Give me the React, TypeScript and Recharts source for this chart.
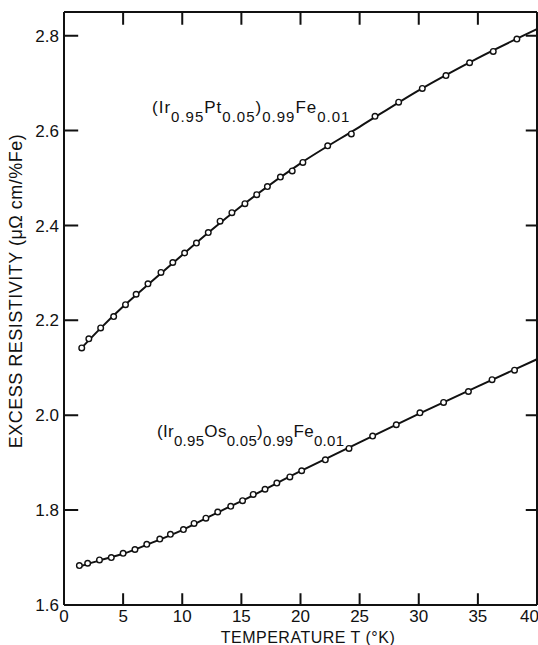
import { ComposedChart, Line, XAxis, YAxis, ReferenceLine, Customized } from "recharts"

// temperatures (K) and excess resistivity (μΩ cm / %Fe), measured points
const ptTemps = [1.5, 2.1, 3.1, 4.2, 5.2, 6.1, 7.1, 8.2, 9.2, 10.2, 11.2, 12.2, 13.2, 14.2, 15.3, 16.3, 17.2, 18.3, 19.3, 20.2, 22.3, 24.3, 26.3, 28.3, 30.3, 32.3, 34.3, 36.3, 38.3]
const ptValues = [2.142, 2.161, 2.184, 2.208, 2.233, 2.255, 2.277, 2.301, 2.322, 2.342, 2.363, 2.385, 2.409, 2.427, 2.446, 2.465, 2.482, 2.502, 2.515, 2.533, 2.568, 2.593, 2.63, 2.66, 2.689, 2.716, 2.743, 2.767, 2.793]

const osTemps = [1.3, 2.0, 3.0, 4.0, 5.0, 6.0, 7.0, 8.1, 9.0, 10.1, 11.0, 12.0, 13.0, 14.1, 15.1, 16.0, 17.0, 18.0, 19.1, 20.1, 22.1, 24.1, 26.1, 28.1, 30.1, 32.1, 34.2, 36.2, 38.1]
const osValues = [1.683, 1.688, 1.695, 1.7, 1.709, 1.717, 1.728, 1.739, 1.749, 1.759, 1.772, 1.783, 1.796, 1.808, 1.82, 1.833, 1.844, 1.857, 1.87, 1.883, 1.906, 1.93, 1.956, 1.98, 2.005, 2.027, 2.05, 2.075, 2.095]

// smooth drawn curves through each set
const fitTemps = [1.3, 3, 5, 7.5, 10, 12.5, 15, 20, 25, 30, 35, 40]
const ptFit = [2.137, 2.181, 2.229, 2.284, 2.338, 2.391, 2.441, 2.531, 2.608, 2.685, 2.753, 2.814]
const osFit = [1.681, 1.694, 1.708, 1.732, 1.758, 1.789, 1.819, 1.882, 1.943, 2.003, 2.061, 2.118]

const xTicks = [0, 5, 10, 15, 20, 25, 30, 35, 40]
const yTicks = [1.6, 1.8, 2.0, 2.2, 2.4, 2.6, 2.8]

const X_MIN = 0, X_MAX = 40, Y_MIN = 1.6, Y_MAX = 2.85

type Pt = { t: number; v: number | null }
const rows = (ts: number[], vs: number[]): Pt[] => ts.map((t, i) => ({ t, v: vs[i] }))

// inward tick marks as broken polylines: each tick is two points, then a gap
const vTicks = (ts: number[], v0: number, dv: number): Pt[] =>
  ts.flatMap((t) => [{ t, v: v0 }, { t, v: v0 + dv }, { t, v: null }])
const hTicks = (vs: number[], t0: number, dt: number): Pt[] =>
  vs.flatMap((v) => [{ t: t0, v }, { t: t0 + dt, v }, { t: t0 + dt / 2, v: null }])

const innerX = xTicks.slice(1, -1)
const innerY = yTicks.slice(1)

const FONT = "'Liberation Sans', Arial, sans-serif"
const INK = "#111"
const axisLine = { stroke: INK, strokeWidth: 2 }
const tickFont = { fontSize: 17, fontFamily: FONT, fill: INK }

// chemical formula with subscripts
const Formula = ({ x, y, mid, ls }: { x: number; y: number; mid: string; ls: number }) => {
  const parts: [string, boolean][] = [["(Ir", false], ["0.95", true], [mid, false], ["0.05", true], [")", false], ["0.99", true], ["Fe", false], ["0.01", true]]
  let prevSub = false
  return (
    <text x={x} y={y} fontSize={17} letterSpacing={ls} fontFamily={FONT} fill={INK}>
      {parts.map(([s, sub], i) => {
        const dy = sub === prevSub ? 0 : sub ? 9 : -9
        prevSub = sub
        return (
          <tspan key={i} dy={dy} fontSize={sub ? 15 : 17}>{s}</tspan>
        )
      })}
    </text>
  )
}

const Texts = () => (
  <g fontFamily={FONT} fill={INK}>
    <Formula x={152} y={113} mid="Pt" ls={1} />
    <Formula x={157} y={437} mid="Os" ls={0.3} />
    <text x={308} y={643} textAnchor="middle" fontSize={16} letterSpacing={0.5}>
      TEMPERATURE  T (°K)
    </text>
    <text x={22} y={291} textAnchor="middle" fontSize={18} letterSpacing={0.5} transform="rotate(-90 22 291)">
      EXCESS RESISTIVITY  (μΩ cm/%Fe)
    </text>
  </g>
)

const tickStyle = { stroke: INK, strokeWidth: 2, dot: false, activeDot: false, connectNulls: false, isAnimationActive: false, type: "linear" as const }

export default function App() {
  return (
    <div style={{ position: "absolute", left: 0, top: 0 }}>
      <ComposedChart width={538} height={645} margin={{ top: 12, right: 1, bottom: 0, left: 0 }}>
        <XAxis xAxisId="b" type="number" dataKey="t" domain={[X_MIN, X_MAX]} ticks={xTicks} height={40}
          tickSize={0} tickMargin={5} tickLine={false} tick={tickFont}
          axisLine={axisLine} />
        <YAxis yAxisId="l" type="number" dataKey="v" domain={[Y_MIN, Y_MAX]} ticks={yTicks} width={64}
          tickSize={0} tickMargin={5} tickLine={false} tick={tickFont}
          tickFormatter={(v: number) => v.toFixed(1)}
          axisLine={axisLine} />

        {/* top and right edges of the frame */}
        <ReferenceLine xAxisId="b" yAxisId="l" y={Y_MAX} stroke={INK} strokeWidth={2} ifOverflow="visible" />
        <ReferenceLine xAxisId="b" yAxisId="l" x={X_MAX} stroke={INK} strokeWidth={2} ifOverflow="visible" />

        <Line xAxisId="b" yAxisId="l" data={vTicks(innerX, Y_MIN, 0.025)} dataKey="v" {...tickStyle} />
        <Line xAxisId="b" yAxisId="l" data={vTicks(innerX, Y_MAX, -0.027)} dataKey="v" {...tickStyle} />
        <Line xAxisId="b" yAxisId="l" data={hTicks(innerY, X_MIN, 1.2)} dataKey="v" {...tickStyle} />
        <Line xAxisId="b" yAxisId="l" data={hTicks(innerY, X_MAX, -0.95)} dataKey="v" {...tickStyle} />

        <Line xAxisId="b" yAxisId="l" data={rows(fitTemps, ptFit)} dataKey="v" type="monotone"
          stroke={INK} strokeWidth={2} dot={false} isAnimationActive={false} />
        <Line xAxisId="b" yAxisId="l" data={rows(fitTemps, osFit)} dataKey="v" type="monotone"
          stroke={INK} strokeWidth={2} dot={false} isAnimationActive={false} />
        <Line xAxisId="b" yAxisId="l" data={rows(ptTemps, ptValues)} dataKey="v" stroke="none"
          dot={{ r: 2.8, fill: "#fff", stroke: INK, strokeWidth: 1.4 }} isAnimationActive={false} />
        <Line xAxisId="b" yAxisId="l" data={rows(osTemps, osValues)} dataKey="v" stroke="none"
          dot={{ r: 2.8, fill: "#fff", stroke: INK, strokeWidth: 1.4 }} isAnimationActive={false} />

        <Customized component={Texts} />
      </ComposedChart>
    </div>
  )
}
